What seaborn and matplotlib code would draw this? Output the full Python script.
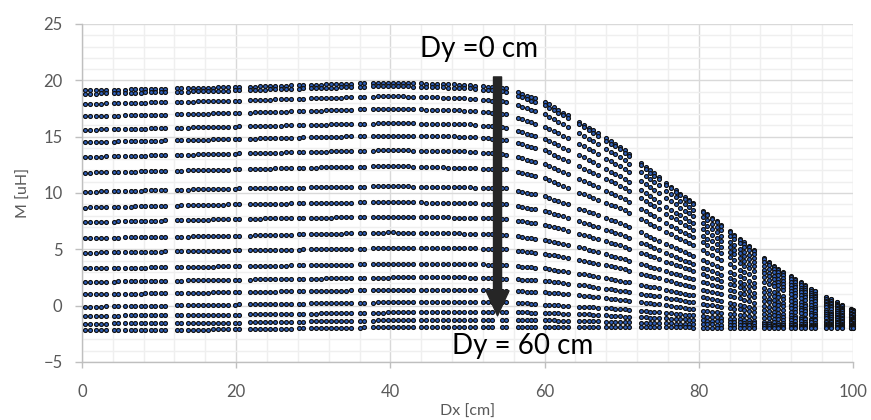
import numpy as np
import pandas as pd
import matplotlib
matplotlib.use("Agg")
import matplotlib.pyplot as plt
from matplotlib.ticker import MultipleLocator
import seaborn as sns

# Lateral offsets Dx [cm] at which the mutual inductance was sampled
dx_cm = [
    0.4, 1.1, 1.8, 2.5, 3.1,
    4.2, 4.7,
    5.6, 6.3, 6.9, 7.6, 8.2, 8.9, 9.5, 10.2, 10.8,
    12.3, 12.8,
    13.7, 14.4, 15.0, 15.7, 16.3, 17.0, 17.6, 18.3, 18.9,
    19.8, 20.4,
    21.8, 22.4, 23.1, 23.7, 24.4, 25.1, 25.8, 26.4, 27.1,
    28.2, 28.7,
    29.7, 30.4, 31.0, 31.7, 32.3, 33.0, 33.6, 34.3, 34.9,
    36.0, 36.6,
    37.7, 38.4, 39.0, 39.7, 40.3, 41.0, 41.6, 42.3, 42.9,
    44.0, 44.6,
    45.4, 46.1, 46.8, 47.5, 48.2, 48.9, 49.6, 50.3, 51.0,
    52.0, 52.6, 53.2,
    54.5, 55.0,
    56.5, 57.1, 57.7, 58.3, 58.8,
    60.0, 60.6, 61.2, 61.8, 62.4, 63.0,
    64.5, 65.1, 65.7, 66.3, 66.9,
    68.0, 68.6, 69.2, 69.8, 70.4, 71.0,
    72.5, 73.1, 73.7, 74.2, 74.8,
    75.8, 76.4, 77.0, 77.6, 78.2, 78.7, 79.2,
    80.5, 81.1, 81.7, 82.3, 82.9,
    84.0, 84.6, 85.3, 85.9, 86.5, 87.1,
    88.5, 89.1, 89.7, 90.3, 90.9,
    91.9, 92.5, 93.2, 93.8, 94.5, 95.1,
    96.5, 97.2, 97.9, 98.6,
    99.7, 100.0,
]

# Reference offsets Dx [cm] for the tabulated M curves below
dx_ref = [0, 20, 40, 50, 55, 60, 65, 70, 75, 80, 85, 90, 95, 100]

# M [uH] versus Dx, one curve per vertical offset, Dy = 0 cm (top) ... Dy = 60 cm (bottom)
m_row01 = [19.1, 19.4, 19.8, 19.6, 19.3, 18.1, 16.1, 14.0, 11.3, 8.7, 6.1, 3.4, 1.3, -0.4]
m_row02 = [18.8, 19.1, 19.5, 19.3, 19.0, 17.8, 15.9, 13.8, 11.1, 8.6, 6.0, 3.3, 1.3, -0.4]
m_row03 = [17.9, 18.2, 18.6, 18.4, 18.1, 17.0, 15.1, 13.1, 10.6, 8.1, 5.7, 3.1, 1.1, -0.5]
m_row04 = [16.8, 17.1, 17.5, 17.3, 17.0, 15.9, 14.2, 12.3, 9.9, 7.6, 5.2, 2.8, 0.9, -0.6]
m_row05 = [15.6, 15.9, 16.2, 16.1, 15.8, 14.8, 13.2, 11.4, 9.1, 7.0, 4.8, 2.5, 0.8, -0.7]
m_row06 = [14.5, 14.8, 15.1, 15.0, 14.7, 13.8, 12.2, 10.6, 8.5, 6.4, 4.4, 2.2, 0.6, -0.8]
m_row07 = [13.2, 13.5, 13.8, 13.7, 13.4, 12.6, 11.1, 9.6, 7.6, 5.8, 3.9, 1.9, 0.4, -0.8]
m_row08 = [11.8, 12.1, 12.4, 12.2, 12.1, 11.3, 9.9, 8.6, 6.8, 5.1, 3.3, 1.6, 0.2, -1.0]
m_row09 = [10.1, 10.4, 10.6, 10.5, 10.4, 9.7, 8.5, 7.3, 5.7, 4.2, 2.7, 1.1, -0.1, -1.1]
m_row10 = [8.7, 9.0, 9.2, 9.1, 9.0, 8.4, 7.4, 6.3, 4.9, 3.5, 2.2, 0.8, -0.3, -1.2]
m_row11 = [7.4, 7.7, 7.9, 7.8, 7.7, 7.2, 6.3, 5.3, 4.1, 2.9, 1.7, 0.4, -0.5, -1.3]
m_row12 = [6.0, 6.2, 6.5, 6.4, 6.3, 5.8, 5.1, 4.2, 3.2, 2.2, 1.2, 0.1, -0.7, -1.4]
m_row13 = [4.7, 4.9, 5.1, 5.1, 5.0, 4.6, 4.0, 3.3, 2.4, 1.5, 0.7, -0.3, -0.9, -1.5]
m_row14 = [3.3, 3.5, 3.7, 3.7, 3.6, 3.3, 2.8, 2.2, 1.5, 0.8, 0.1, -0.6, -1.2, -1.6]
m_row15 = [2.1, 2.3, 2.5, 2.5, 2.4, 2.2, 1.8, 1.3, 0.8, 0.2, -0.3, -0.9, -1.3, -1.7]
m_row16 = [1.0, 1.2, 1.4, 1.4, 1.3, 1.2, 0.9, 0.5, 0.1, -0.4, -0.8, -1.2, -1.5, -1.8]
m_row17 = [-0.1, 0.1, 0.3, 0.3, 0.3, 0.1, -0.1, -0.3, -0.6, -0.9, -1.2, -1.5, -1.7, -1.8]
m_row18 = [-0.9, -0.8, -0.6, -0.55, -0.55, -0.65, -0.75, -0.95, -1.1, -1.3, -1.45, -1.7, -1.8, -1.9]
m_row19 = [-1.6, -1.5, -1.3, -1.25, -1.25, -1.3, -1.35, -1.45, -1.55, -1.65, -1.7, -1.85, -1.9, -1.95]
m_row20 = [-2.2, -2.1, -1.9, -1.85, -1.85, -1.85, -1.85, -1.9, -1.9, -1.95, -1.95, -2.0, -2.0, -2.0]

curves = [m_row01, m_row02, m_row03, m_row04, m_row05, m_row06, m_row07,
          m_row08, m_row09, m_row10, m_row11, m_row12, m_row13, m_row14,
          m_row15, m_row16, m_row17, m_row18, m_row19, m_row20]

# Long-format table: one row per measured point
dx_arr = np.asarray(dx_cm)
frames = []
for idx, curve in enumerate(curves):
    frames.append(pd.DataFrame({
        "Dx": dx_arr,
        "M": np.interp(dx_arr, dx_ref, curve),
        "curve": idx,
    }))
df = pd.concat(frames, ignore_index=True)

sns.set_theme(style="white")
plt.rcParams["font.family"] = ["Lato", "DejaVu Sans"]

grey_txt = "#595959"

fig = plt.figure(figsize=(8.71, 4.20), dpi=100)
ax = fig.add_axes([0.0941, 0.1381, 0.8852, 0.8048])

sns.scatterplot(data=df, x="Dx", y="M", ax=ax, s=8, color="#2F62C0",
                edgecolor="#111111", linewidth=0.85, legend=False, zorder=3)
for coll in ax.collections:
    coll.set_clip_on(False)

ax.set_xlim(0, 100)
ax.set_ylim(-5, 25)
ax.xaxis.set_major_locator(MultipleLocator(20))
ax.xaxis.set_minor_locator(MultipleLocator(4))
ax.yaxis.set_major_locator(MultipleLocator(5))
ax.yaxis.set_minor_locator(MultipleLocator(1))

ax.grid(which="minor", color="#efefef", linewidth=1.0, zorder=0)
ax.grid(which="major", color="#d9d9d9", linewidth=1.0, zorder=0)
ax.set_axisbelow(True)

for side in ("top", "right"):
    ax.spines[side].set_visible(False)
for side in ("left", "bottom"):
    ax.spines[side].set_color("#bfbfbf")
    ax.spines[side].set_linewidth(1.0)

ax.tick_params(axis="x", which="major", direction="out", length=4, width=1,
               color="#bfbfbf", pad=12, labelsize=12, labelcolor=grey_txt, bottom=True)
ax.tick_params(axis="y", which="major", direction="out", length=5, width=1,
               color="#bfbfbf", pad=9, labelsize=12, labelcolor=grey_txt, left=True)
ax.tick_params(which="minor", length=0)

ax.set_xlabel("Dx [cm]", fontsize=11.5, color=grey_txt, labelpad=3)
ax.set_ylabel("M [uH]", fontsize=11.5, color=grey_txt, labelpad=9)

# Arrow showing the direction of increasing vertical offset
ax.annotate("", xy=(53.9, -0.9), xytext=(53.9, 20.3),
            arrowprops=dict(facecolor="#262626", edgecolor="#262626",
                            width=5.8, headwidth=16.5, headlength=18, shrink=0),
            zorder=5, annotation_clip=False)

ax.text(43.9, 22.1, "Dy =0 cm", fontsize=20, color="black", ha="left", va="baseline", zorder=6)
ax.text(48.0, -4.27, "Dy = 60 cm", fontsize=20, color="black", ha="left", va="baseline", zorder=6)

fig.savefig("out.png", dpi=100)
